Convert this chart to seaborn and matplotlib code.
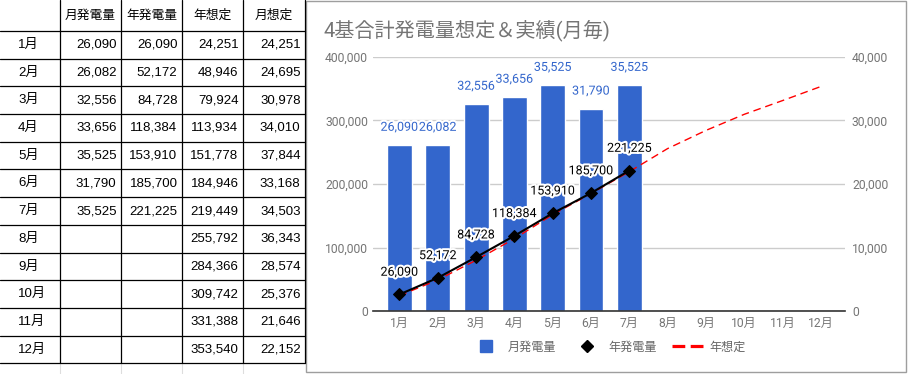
import numpy as np
import pandas as pd
import seaborn as sns
import matplotlib.pyplot as plt
import matplotlib.patheffects as pe
from matplotlib.lines import Line2D
from matplotlib.patches import Rectangle

# data
months = ['1月', '2月', '3月', '4月', '5月', '6月', '7月', '8月', '9月', '10月', '11月', '12月']
monthly = [26090, 26082, 32556, 33656, 35525, 31790, 35525]
annual = [26090, 52172, 84728, 118384, 153910, 185700, 221225]
annual_plan = [24251, 48946, 79924, 113934, 151778, 184946, 219449,
               255792, 284366, 309742, 331388, 353540]
monthly_plan = [24251, 24695, 30978, 34010, 37844, 33168, 34503,
                36343, 28574, 25376, 21646, 22152]
headers = ['月発電量', '年発電量', '年想定', '月想定']
title = '4基合計発電量想定＆実績(月毎)'

sns.set_style('white')
chart_font = ['Roboto', 'Noto Sans CJK JP', 'DejaVu Sans']
table_font = ['Liberation Sans', 'Noto Sans CJK JP', 'DejaVu Sans']
plt.rcParams['font.family'] = chart_font

W, H = 909, 374
fig = plt.figure(figsize=(W / 100, H / 100), dpi=100)


def fx(x):
    return x / W


def fy(y):
    return 1 - y / H


# ---- spreadsheet table on the left ----
col_x = [0, 60, 121, 182, 243, 305]
row_top = 31
row_h = 27.7
n_rows = len(months)
table_bottom = row_top + row_h * n_rows

for x in col_x[1:]:
    fig.add_artist(Line2D([fx(x), fx(x)], [fy(0), fy(table_bottom)], color='black', lw=0.9))
for x in col_x[1:-1]:
    fig.add_artist(Line2D([fx(x), fx(x)], [fy(table_bottom), fy(H)], color='#dddddd', lw=0.8))
for k in range(n_rows + 1):
    y = row_top + row_h * k
    fig.add_artist(Line2D([fx(0), fx(305)], [fy(y), fy(y)], color='black', lw=0.9))

for j, h in enumerate(headers):
    cx = (col_x[j + 1] + col_x[j + 2]) / 2
    fig.text(fx(cx), fy(row_top / 2), h, ha='center', va='center',
             fontsize=9.2, family=table_font, color='black')

cols = [monthly, annual, annual_plan, monthly_plan]
for i, m in enumerate(months):
    cy = row_top + row_h * (i + 0.5)
    fig.text(fx(18), fy(cy), m, ha='left', va='center', fontsize=9.5,
             family=table_font, color='black')
    for j, col in enumerate(cols):
        if i < len(col):
            fig.text(fx(col_x[j + 2] - 4.5), fy(cy), f'{col[i]:,}', ha='right',
                     va='center', fontsize=9.5, family=table_font, color='black')

# ---- chart ----
fig.add_artist(Rectangle((fx(306), fy(372)), fx(600), (371) / H, fill=False,
                         edgecolor='#9e9e9e', lw=1, transform=fig.transFigure))
fig.text(fx(324), fy(30), title, ha='left', va='center', fontsize=14.5, color='#757575')

ax = fig.add_axes([fx(373), fy(311), fx(472), 254 / H])
ax2 = ax.twinx()

bar_df = pd.DataFrame({'month': months[:len(monthly)], 'value': monthly})
sns.barplot(data=bar_df, x='month', y='value', order=months, ax=ax,
            color='#3366CC', saturation=1, width=0.65)

sns.lineplot(x=np.arange(len(annual_plan)), y=annual_plan, ax=ax2, color='red',
             lw=1.0, linestyle=(0, (5.5, 3.5)))
sns.lineplot(x=np.arange(len(annual)), y=annual, ax=ax2, color='black', lw=1.5,
             marker='D', markersize=6, markeredgecolor='black')

halo = [pe.withStroke(linewidth=3, foreground='white')]
for i, v in enumerate(monthly):
    ax.annotate(f'{v:,}', (i, v), xytext=(0, 13), textcoords='offset points',
                ha='center', va='center', fontsize=9, color='#3366CC', path_effects=halo)
for i, v in enumerate(annual):
    ax2.annotate(f'{v:,}', (i, v), xytext=(0, 16), textcoords='offset points',
                 ha='center', va='center', fontsize=9, color='black', path_effects=halo)

ax.set_ylim(0, 40000)
ax2.set_ylim(0, 400000)
ax.set_yticks(np.arange(0, 40001, 10000))
ax2.set_yticks(np.arange(0, 400001, 100000))
ax.set_yticklabels([f'{v:,}' for v in np.arange(0, 40001, 10000)])
ax2.set_yticklabels([f'{v:,}' for v in np.arange(0, 400001, 100000)])
ax.yaxis.tick_right()
ax2.yaxis.tick_left()
ax.set_xticks(range(len(months)))
ax.set_xticklabels(months)
ax.set_xlim(-0.69, 11.63)

ax.grid(axis='y', color='#cccccc', lw=1)
ax.set_axisbelow(True)
ax2.grid(False)
for a in (ax, ax2):
    for s in ('top', 'left', 'right', 'bottom'):
        a.spines[s].set_visible(False)
    a.set_xlabel('')
    a.set_ylabel('')
ax.spines['bottom'].set_visible(True)
ax.spines['bottom'].set_color('#333333')
ax.spines['bottom'].set_linewidth(1.2)

ax.tick_params(axis='y', length=0, pad=5, labelsize=8.7, labelcolor='#757575')
ax2.tick_params(axis='y', length=0, pad=3.6, labelsize=8.7, labelcolor='#757575')
ax.tick_params(axis='x', length=0, pad=4.3, labelsize=8.7, labelcolor='#757575')

handles = [
    Line2D([], [], marker='s', color='#3366CC', linestyle='none', markersize=8.5),
    Line2D([], [], marker='D', color='black', linestyle='none', markersize=6.5),
    Line2D([], [], color='red', lw=2.3, linestyle=(0, (4, 1.7))),
]
fig.legend(handles, ['月発電量', '年発電量', '年想定'], loc='center',
           bbox_to_anchor=(fx(608), fy(347)), ncol=3, frameon=False, fontsize=8.7,
           labelcolor='#666666', handlelength=2.6, handletextpad=0.5, columnspacing=1.2)

fig.savefig('out.png', dpi=100)
